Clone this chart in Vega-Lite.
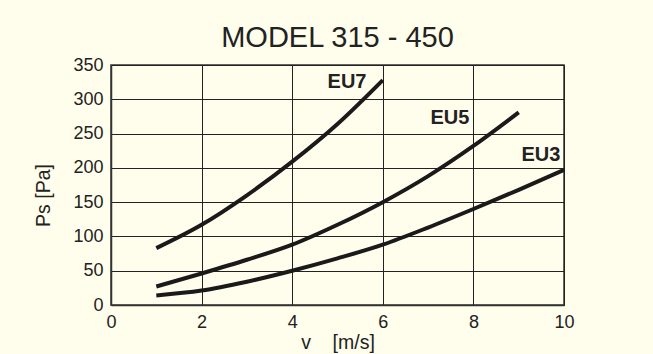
{
  "$schema": "https://vega.github.io/schema/vega-lite/v6.json",
  "width": 453,
  "height": 240,
  "autosize": {"type": "none"},
  "padding": {"left": 111, "top": 65, "right": 89, "bottom": 49},
  "background": "#FFFDEB",
  "title": {
    "text": "MODEL 315 - 450",
    "font": "Liberation Sans",
    "fontSize": 29,
    "fontWeight": "normal",
    "color": "#222222",
    "anchor": "middle",
    "frame": "group",
    "baseline": "alphabetic",
    "offset": -20
  },
  "config": {
    "view": {"stroke": "#333333", "strokeWidth": 1.5, "fill": "#FFFDEB"},
    "axis": {
      "labelFont": "Liberation Sans",
      "labelFontSize": 18,
      "labelColor": "#222222",
      "labelOverlap": false,
      "labelBound": false,
      "labelFlush": false,
      "titleFont": "Liberation Sans",
      "titleFontSize": 19.5,
      "titleFontWeight": "normal",
      "titleColor": "#222222",
      "ticks": false,
      "domainColor": "#333333",
      "domainWidth": 1.5,
      "gridColor": "#222222",
      "gridWidth": 1,
      "gridOpacity": 1,
      "labelPadding": 8
    }
  },
  "datasets": {
    "curves": [
      {"series": "EU7", "v": 1, "ps": 83},
      {"series": "EU7", "v": 2, "ps": 117},
      {"series": "EU7", "v": 3, "ps": 160},
      {"series": "EU7", "v": 4, "ps": 209},
      {"series": "EU7", "v": 5, "ps": 264},
      {"series": "EU7", "v": 6, "ps": 328},
      {"series": "EU5", "v": 1, "ps": 27},
      {"series": "EU5", "v": 2, "ps": 46},
      {"series": "EU5", "v": 3, "ps": 66},
      {"series": "EU5", "v": 4, "ps": 88},
      {"series": "EU5", "v": 5, "ps": 117},
      {"series": "EU5", "v": 6, "ps": 150},
      {"series": "EU5", "v": 7, "ps": 188},
      {"series": "EU5", "v": 8, "ps": 232},
      {"series": "EU5", "v": 9, "ps": 281},
      {"series": "EU3", "v": 1, "ps": 14},
      {"series": "EU3", "v": 2, "ps": 21},
      {"series": "EU3", "v": 3, "ps": 34},
      {"series": "EU3", "v": 4, "ps": 50},
      {"series": "EU3", "v": 5, "ps": 68},
      {"series": "EU3", "v": 6, "ps": 88},
      {"series": "EU3", "v": 7, "ps": 113},
      {"series": "EU3", "v": 8, "ps": 140},
      {"series": "EU3", "v": 9, "ps": 168},
      {"series": "EU3", "v": 10, "ps": 197}
    ],
    "labels": [
      {"label": "EU7", "v": 5.21, "ps": 325},
      {"label": "EU5", "v": 7.48, "ps": 273},
      {"label": "EU3", "v": 9.49, "ps": 219}
    ]
  },
  "encoding": {
    "x": {
      "field": "v", "type": "quantitative",
      "scale": {"domain": [0, 10], "nice": false},
      "axis": {"values": [0, 2, 4, 6, 8, 10], "title": "v\u00a0\u00a0\u00a0\u00a0[m/s]", "titlePadding": 2}
    },
    "y": {
      "field": "ps", "type": "quantitative",
      "scale": {"domain": [0, 350], "nice": false},
      "axis": {"values": [0, 50, 100, 150, 200, 250, 300, 350], "title": "Ps [Pa]", "titleX": -58, "titleY": 130}
    }
  },
  "layer": [
    {
      "data": {"name": "curves"},
      "mark": {"type": "line", "color": "#1a1a1a", "strokeWidth": 4, "interpolate": "monotone", "strokeCap": "butt"},
      "encoding": {
        "detail": {"field": "series"}
      }
    },
    {
      "data": {"name": "labels"},
      "mark": {"type": "text", "font": "Liberation Sans", "fontSize": 20, "fontWeight": "bold", "color": "#222222", "align": "center", "baseline": "middle"},
      "encoding": {
        "text": {"field": "label"}
      }
    }
  ]
}
